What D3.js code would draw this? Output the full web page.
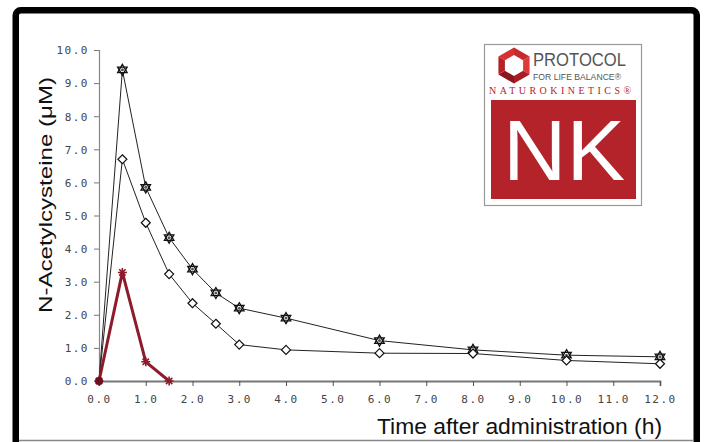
<!DOCTYPE html>
<html><head><meta charset="utf-8">
<script src="https://cdn.jsdelivr.net/npm/d3@7"></script>
<style>html,body{margin:0;padding:0;background:#fff;}svg{display:block;}</style>
</head><body>
<svg id="c" width="704" height="442"></svg>
<script>
const times = [0, 0.5, 1.0, 1.5, 2.0, 2.5, 3.0, 4.0, 6.0, 8.0, 10.0, 12.0];
const starSeries = [0, 9.4, 5.85, 4.33, 3.38, 2.66, 2.2, 1.9, 1.22, 0.94, 0.78, 0.73];
const diamondSeries = [0, 6.7, 4.78, 3.23, 2.35, 1.73, 1.1, 0.94, 0.84, 0.83, 0.62, 0.52];
const redTimes = [0, 0.5, 1.0, 1.5];
const redSeries = [0, 3.28, 0.58, 0];
const xTicks = [0,1,2,3,4,5,6,7,8,9,10,11,12];
const yTicks = [0,1,2,3,4,5,6,7,8,9,10];

const svg = d3.select("#c");
// frame
svg.append("rect").attr("x",15.75).attr("y",10.25).attr("width",681).attr("height",460)
  .attr("rx",5).attr("fill","none").attr("stroke","#000").attr("stroke-width",6.5);
svg.append("line").attr("x1",19).attr("x2",694).attr("y1",440.5).attr("y2",440.5)
  .attr("stroke","#888").attr("stroke-width",1.5);

const x = d3.scaleLinear().domain([0,12]).range([99,660]);
const y = d3.scaleLinear().domain([0,10]).range([381,50]);

// y axis
const ya = svg.append("g").attr("transform","translate(99,0)")
  .call(d3.axisLeft(y).tickValues(yTicks).tickSize(5).tickPadding(5).tickFormat(d3.format(".1f")));
ya.select(".domain").attr("stroke","#888").attr("stroke-width",1.2);
ya.selectAll(".tick line").attr("stroke","#777");
ya.selectAll("text").attr("font-family","DejaVu Sans Mono").attr("font-size",11)
  .attr("fill","#444").attr("letter-spacing","1.5px").attr("dy","0.35em");

// x axis
const xa = svg.append("g").attr("transform","translate(0,381)")
  .call(d3.axisBottom(x).tickValues(xTicks).tickSize(5).tickPadding(9).tickFormat(d3.format(".1f")));
xa.select(".domain").attr("stroke","#777").attr("stroke-width",1.8);
xa.selectAll(".tick line").attr("stroke","#555");
xa.selectAll("text").attr("font-family","DejaVu Sans Mono").attr("font-size",11)
  .attr("fill","#444").attr("letter-spacing","1.5px");

// titles
svg.append("text").attr("transform","translate(52,195) rotate(-90)")
  .attr("text-anchor","middle").attr("font-family","Liberation Sans, Arial, sans-serif")
  .attr("font-size",19).attr("fill","#111")
  .attr("textLength",236).attr("lengthAdjust","spacingAndGlyphs")
  .text("N-Acetylcysteine (μM)");
svg.append("text").attr("x",662).attr("y",434)
  .attr("text-anchor","end").attr("font-family","Liberation Sans Narrow, Liberation Sans, Arial, sans-serif")
  .attr("font-size",22).attr("fill","#111")
  .attr("textLength",285).attr("lengthAdjust","spacingAndGlyphs")
  .text("Time after administration (h)");

const line = d3.line().x(d=>x(d[0])).y(d=>y(d[1]));
const starPts = times.map((t,i)=>[t,starSeries[i]]);
const diaPts = times.map((t,i)=>[t,diamondSeries[i]]);
const redPts = redTimes.map((t,i)=>[t,redSeries[i]]);

svg.append("path").attr("d",line(starPts)).attr("fill","none").attr("stroke","#222").attr("stroke-width",1);
svg.append("path").attr("d",line(diaPts)).attr("fill","none").attr("stroke","#222").attr("stroke-width",1);

// star markers (hexagram)
const r = 5.5;
function tri(cx,cy,rr,rot){
  const p=[];
  for(let k=0;k<3;k++){const a=rot+k*2*Math.PI/3;p.push([cx+rr*Math.sin(a),cy-rr*Math.cos(a)]);}
  return "M"+p.map(q=>q.join(",")).join("L")+"Z";
}
svg.append("g").selectAll("g").data(starPts.slice(1)).join("g").each(function(d){
  const g=d3.select(this), cx=x(d[0]), cy=y(d[1]);
  g.append("path").attr("d",tri(cx,cy,r,0)).attr("fill","#fff").attr("stroke","#111").attr("stroke-width",1.3);
  g.append("path").attr("d",tri(cx,cy,r,Math.PI)).attr("fill","none").attr("stroke","#111").attr("stroke-width",1.3);
  g.append("circle").attr("cx",cx).attr("cy",cy).attr("r",1.5).attr("fill","#555");
});
// diamond markers
svg.append("g").selectAll("path").data(diaPts.slice(1)).join("path")
  .attr("d",d=>{const cx=x(d[0]),cy=y(d[1]),s=4.5;return `M${cx},${cy-s}L${cx+s},${cy}L${cx},${cy+s}L${cx-s},${cy}Z`;})
  .attr("fill","#fff").attr("stroke","#111").attr("stroke-width",1.2);

// red series
svg.append("path").attr("d",line(redPts)).attr("fill","none").attr("stroke","#8e1b2c").attr("stroke-width",3).attr("stroke-linejoin","round");
svg.append("g").selectAll("path").data(redPts).join("path")
  .attr("d",d=>{const cx=x(d[0]),cy=y(d[1]),s=4.5;let p="";for(let k=0;k<4;k++){const a=k*Math.PI/4;p+=`M${cx-s*Math.cos(a)},${cy-s*Math.sin(a)}L${cx+s*Math.cos(a)},${cy+s*Math.sin(a)}`;}return p;})
  .attr("stroke","#8e1b2c").attr("stroke-width",1.6).attr("fill","none");
svg.append("circle").attr("cx",x(0)).attr("cy",y(0)).attr("r",4).attr("fill","#6a1020");

// logo
const lg = svg.append("g");
lg.append("rect").attr("x",484.5).attr("y",44.5).attr("width",157).attr("height",161)
  .attr("fill","#fff").attr("stroke","#999").attr("stroke-width",1.2);
// hexagon ring
const hcx=514, hcy=65.5, R=18, ri=10.5;
const shades=["#c9282d","#e0393a","#a81d24","#8c161d","#b62027","#d7302f"];
for(let k=0;k<6;k++){
  const a1=k*Math.PI/3, a2=(k+1)*Math.PI/3;
  const P=(rr,a)=>[hcx+rr*Math.sin(a),hcy-rr*Math.cos(a)];
  const pts=[P(R,a1),P(R,a2),P(ri,a2),P(ri,a1)];
  lg.append("path").attr("d","M"+pts.map(q=>q.join(",")).join("L")+"Z").attr("fill",shades[k]);
}
lg.append("text").attr("x",533).attr("y",66).attr("font-family","Liberation Sans, Arial, sans-serif")
  .attr("font-size",18).attr("fill","#555").attr("textLength",93).attr("lengthAdjust","spacingAndGlyphs").text("PROTOCOL");
lg.append("text").attr("x",533).attr("y",79.5).attr("font-family","Liberation Sans, Arial, sans-serif")
  .attr("font-size",9).attr("fill","#555").attr("textLength",88).attr("lengthAdjust","spacingAndGlyphs").text("FOR LIFE BALANCE®");
lg.append("text").attr("x",489).attr("y",94).attr("font-family","Liberation Serif, Times New Roman, serif")
  .attr("font-size",10).attr("fill","#b5232a").attr("textLength",142).attr("lengthAdjust","spacing").text("NATUROKINETICS®");
lg.append("rect").attr("x",491).attr("y",100).attr("width",145).attr("height",99).attr("fill","#b5232a");
lg.append("text").attr("x",564).attr("y",180).attr("text-anchor","middle").attr("font-family","Liberation Sans, Arial, sans-serif")
  .attr("font-size",86).attr("fill","#fff").attr("textLength",122).attr("lengthAdjust","spacingAndGlyphs").text("NK");
</script>
</body></html>
